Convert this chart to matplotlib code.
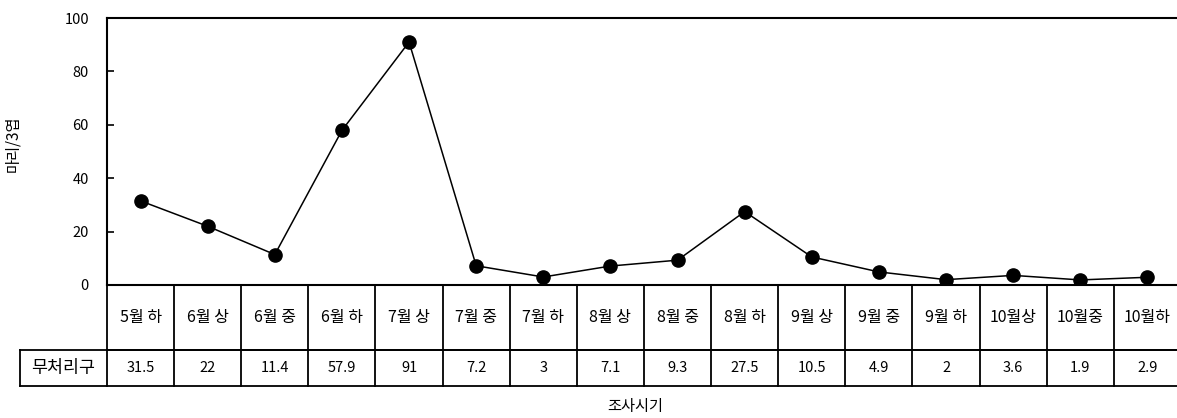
import matplotlib.pyplot as plt
from matplotlib.lines import Line2D

plt.rcParams['font.family'] = ['Noto Sans CJK KR', 'DejaVu Sans']

# 조사시기별 발생량 (무처리구)
periods = ['5월 하', '6월 상', '6월 중', '6월 하', '7월 상', '7월 중', '7월 하', '8월 상',
           '8월 중', '8월 하', '9월 상', '9월 중', '9월 하', '10월상', '10월중', '10월하']
untreated = [31.5, 22, 11.4, 57.9, 91, 7.2, 3, 7.1, 9.3, 27.5, 10.5, 4.9, 2, 3.6, 1.9, 2.9]
row_name = '무처리구'
y_ticks = [0, 20, 40, 60, 80, 100]

W, H = 1177, 418
fig = plt.figure(figsize=(W / 100, H / 100), dpi=100)
# plot area runs a little past the right edge of the figure
ax = fig.add_axes([107 / W, (H - 285) / H, 1074 / W, 267 / H])

x = list(range(len(periods)))
ax.plot(x, untreated, color='black', lw=1.1, marker='o', ms=9.5, mfc='black', mec='black')

ax.set_xlim(-0.5, len(periods) - 0.5)
ax.set_ylim(0, 100)
ax.set_yticks(y_ticks)
ax.set_yticklabels([str(v) for v in y_ticks], fontsize=10.5)
ax.tick_params(axis='y', direction='in', length=5, width=1.2, pad=13)
ax.set_xticks([])
for s in ['top', 'left', 'bottom', 'right']:
    ax.spines[s].set_linewidth(1.5)
ax.set_ylabel('마리/3엽', fontsize=11)
ax.yaxis.set_label_coords(-86 / 1074, 0.53)

# data table under the axis
tr = ax.get_xaxis_transform()
h1 = -65 / 267
h2 = -101 / 267
lab_left = -0.5 - 87 / 1074 * len(periods)
lw = 1.3
n = len(periods)

ax.add_line(Line2D([-0.5, n - 0.5], [h1, h1], transform=tr, color='black', lw=lw, clip_on=False))
ax.add_line(Line2D([lab_left, n - 0.5], [h1, h1], transform=tr, color='black', lw=lw, clip_on=False))
ax.add_line(Line2D([lab_left, n - 0.5], [h2, h2], transform=tr, color='black', lw=lw, clip_on=False))
ax.add_line(Line2D([lab_left, lab_left], [h1, h2], transform=tr, color='black', lw=lw, clip_on=False))
for i in range(n + 1):
    ax.add_line(Line2D([i - 0.5, i - 0.5], [0, h2], transform=tr, color='black', lw=lw, clip_on=False))

for i, (p, v) in enumerate(zip(periods, untreated)):
    ax.text(i, h1 / 2, p, transform=tr, ha='center', va='center', fontsize=11.5,
            fontweight='medium', clip_on=False)
    ax.text(i, (h1 + h2) / 2, f'{v:g}', transform=tr, ha='center', va='center', fontsize=10.5,
            clip_on=False)
ax.text((lab_left - 0.5) / 2, (h1 + h2) / 2, row_name, transform=tr, ha='center', va='center',
        fontsize=12.5, fontweight='medium', clip_on=False)

fig.text(635 / W, 1 - 407 / H, '조사시기', ha='center', va='center', fontsize=11)

fig.savefig('out.png', dpi=100)
